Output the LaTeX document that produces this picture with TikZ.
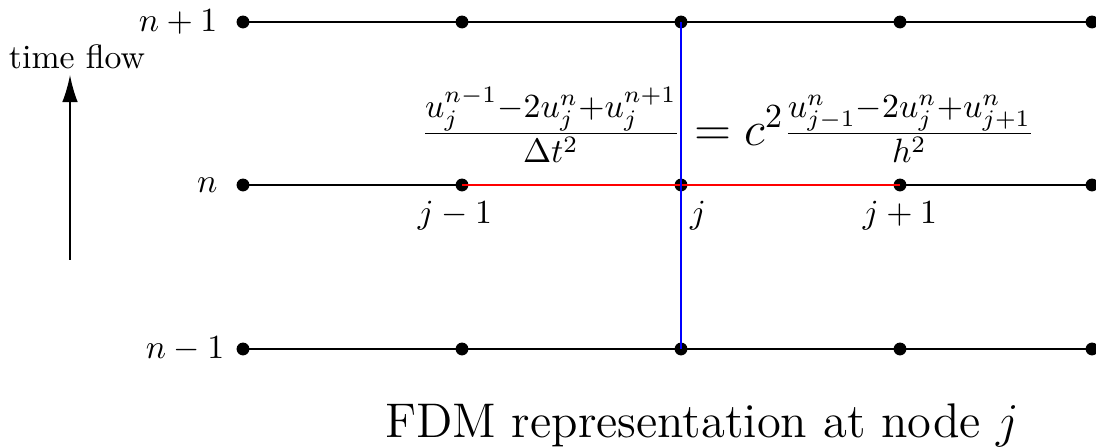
\documentclass[tikz,border=0pt]{standalone}
\usetikzlibrary{arrows.meta}
\begin{document}
\begin{tikzpicture}[x=0.296pt,y=-0.296pt,
  dot/.style={circle,fill=black,inner sep=0pt,minimum size=3.8pt},
  gridline/.style={line width=0.7pt},
  hiline/.style={line width=0.45pt},
  lbl/.style={inner sep=0pt}]
\useasboundingbox (0,0) rectangle (1096,448);
\foreach \r/\y in {a/22,b/185,c/349}{
  \foreach \i/\x in {0/243,1/462,2/681,3/900,4/1092}{
    \node[dot] (\r\i) at (\x,\y) {};
  }
}
\foreach \r in {a,b,c}{
  \draw[gridline] (\r0.center) -- (\r4.center);
}
\draw[hiline,red] (b1.center) -- (b3.center);
\draw[hiline,blue] (a2.center) -- (c2.center);
% row labels
\node[lbl,anchor=east] (ln1) at (218,22) {$n+1$};
\node[lbl,anchor=east] (ln0) at (218,185) {$n$};
\node[lbl,anchor=east] (lnm) at (225,349) {$n-1$};
% column labels
\node[lbl,anchor=base] (ljm) at (455,224) {$j-1$};
\node[lbl,anchor=base] (lj) at (698,224) {$j$};
\node[lbl,anchor=base] (ljp) at (900,224) {$j+1$};
% time flow
\node[lbl] (tf) at (77,57) {time flow};
\coordinate (tbot) at (70,260);
\coordinate (ttop) at (70,75);
\draw[line width=0.5pt,-{Latex[length=8pt,width=4.6pt]}] (tbot) -- (ttop);
% equation
\node[lbl] (eq) at (728,125) {\Large $\frac{u_j^{n-1}-2u_j^n+u_j^{n+1}}{\Delta t^2} = c^2\frac{u_{j-1}^n-2u_j^n+u_{j+1}^n}{h^2}$};
% caption
\node[lbl] (cap) at (702,425) {\Large FDM representation at node $j$};
\end{tikzpicture}
\end{document}
